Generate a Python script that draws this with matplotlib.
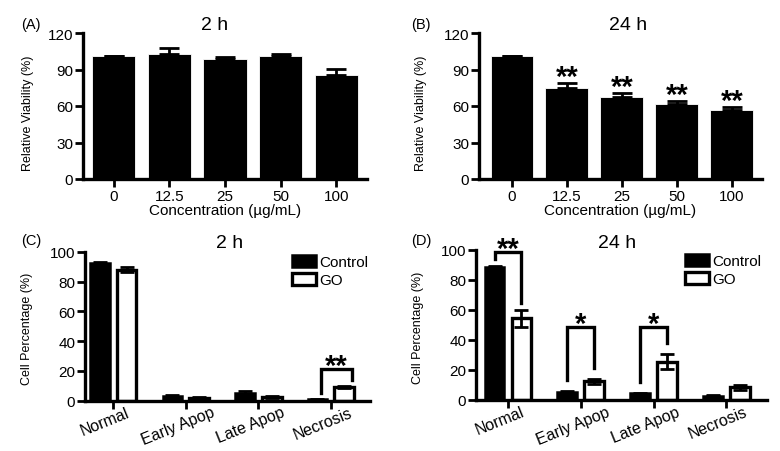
import matplotlib
matplotlib.use("Agg")
import matplotlib.pyplot as plt
import matplotlib.transforms as mtransforms
import numpy as np

plt.rcParams['font.family'] = ['Liberation Sans', 'DejaVu Sans']

# ---- data ----
conc_labels = ["0", "12.5", "25", "50", "100"]
via_2h = [101, 102.5, 99, 101, 85.5]
via_2h_err = [0, 5, 1.5, 1.5, 5]
via_24h = [101, 75, 67.5, 61.5, 56.5]
via_24h_err = [0, 4, 3.5, 3, 2.5]
via_24h_sig = ["", "**", "**", "**", "**"]

cat_labels = ["Normal", "Early Apop", "Late Apop", "Necrosis"]
ctrl_2h = [92.5, 3.0, 5.5, 1.0]
ctrl_2h_err = [0.7, 0.5, 0.8, 0.3]
go_2h = [88, 2.0, 2.5, 9.0]
go_2h_err = [1.5, 0.4, 0.5, 0.8]
sig_2h = ["", "", "", "**"]

ctrl_24h = [89, 5.5, 4.5, 3.0]
ctrl_24h_err = [0.5, 0.5, 0.5, 0.5]
go_24h = [54.5, 12.5, 25.5, 8.5]
go_24h_err = [5.5, 1.5, 5, 1.5]
sig_24h = ["**", "*", "*", ""]

W, H = 780, 452
fig = plt.figure(figsize=(W / 100, H / 100), dpi=100)


def add_ax(left, right, top, bottom):
    return fig.add_axes([left / W, 1 - bottom / H, (right - left) / W, (bottom - top) / H])


def px_offset(dx, dy):
    return mtransforms.ScaledTranslation(dx / 100, dy / 100, fig.dpi_scale_trans)


def style(ax):
    for s in ['top', 'right']:
        ax.spines[s].set_visible(False)
    for s in ['left', 'bottom']:
        ax.spines[s].set_linewidth(2.4)
    ax.tick_params(axis='both', width=2.0, length=5.5, labelsize=11, pad=1.5)


def star(ax, x, y, s, dy_px):
    ax.text(x, y, s, ha='center', va='center', fontsize=21, fontweight='bold',
            fontfamily='Liberation Sans', clip_on=False,
            transform=ax.transData + px_offset(0, dy_px))


def viability(ax, vals, errs, xlim, ylab_x, sig=None):
    x = np.arange(len(vals))
    ax.bar(x, vals, width=0.78, color='black', edgecolor='white', linewidth=0.6, zorder=2)
    ax.errorbar(x, vals, yerr=[np.zeros(len(errs)), errs], fmt='none', ecolor='black',
                elinewidth=2, capsize=7, capthick=2, zorder=3)
    ax.set_xlim(*xlim)
    ax.set_ylim(0, 120)
    ax.set_yticks([0, 30, 60, 90, 120])
    ax.set_xticks(x)
    ax.set_xticklabels(conc_labels)
    style(ax)
    ax.set_xlabel("Concentration (µg/mL)", fontsize=11, labelpad=0)
    ax.set_ylabel("Relative Viability (%)", fontsize=9)
    ax.yaxis.set_label_coords(ylab_x, 0.46)
    if sig:
        for xi, v, e, s in zip(x, vals, errs, sig):
            if s:
                star(ax, xi, v + e, s, 6)


def apop(ax, c, ce, g, ge, xlim, ylab_x, sig, brackets):
    x = np.arange(len(c))
    off = 0.185
    bw = 0.27
    ax.bar(x - off, c, width=bw, color='black', edgecolor='black', linewidth=1.8,
           label='Control', zorder=2)
    ax.bar(x + off, g, width=bw, color='white', edgecolor='black', linewidth=2.4,
           label='GO', zorder=2)
    ax.errorbar(x - off, c, yerr=ce, fmt='none', ecolor='black', elinewidth=2,
                capsize=5, capthick=2, zorder=3)
    ax.errorbar(x + off, g, yerr=ge, fmt='none', ecolor='black', elinewidth=2,
                capsize=5, capthick=2, zorder=3)
    ax.set_xlim(*xlim)
    ax.set_ylim(0, 100)
    ax.set_yticks([0, 20, 40, 60, 80, 100])
    ax.set_xticks(x)
    style(ax)
    labels = ax.set_xticklabels(cat_labels, rotation=22, ha='center', fontsize=11.5)
    for lab in labels:
        lab.set_transform(lab.get_transform() + px_offset(-8, 6))
    ax.set_ylabel("Cell Percentage (%)", fontsize=9)
    ax.yaxis.set_label_coords(ylab_x, 0.49)
    for xi, s, br in zip(x, sig, brackets):
        if not s or br is None:
            continue
        yl, yt, yr, dxl, dxr = br
        xl = xi - off + dxl
        xr = xi + off + dxr
        ax.plot([xl, xl, xr, xr], [yl, yt, yt, yr], color='black', lw=2.4,
                solid_joinstyle='miter', clip_on=False, zorder=4)
        star(ax, (xl + xr) / 2, yt, s, 3)
    leg = ax.legend(loc='upper left', frameon=False, fontsize=11, handlelength=1.6,
                    handleheight=0.8, handletextpad=0.2, labelspacing=0.25,
                    borderpad=0, borderaxespad=0,
                    bbox_to_anchor=(0, 0), bbox_transform=ax.transAxes)
    return leg


# Panel A
axA = add_ax(83, 367, 34, 180)
viability(axA, via_2h, via_2h_err, (-0.55, 4.55), (34 - 83) / 284)
# Panel B
axB = add_ax(479, 762, 34, 180)
viability(axB, via_24h, via_24h_err, (-0.6, 4.55), (427 - 479) / 283, via_24h_sig)

# Panel C
axC = add_ax(85, 370, 252.7, 401.7)
legC = apop(axC, ctrl_2h, ctrl_2h_err, go_2h, go_2h_err, (-0.39, 3.54), (33 - 85) / 285,
            sig_2h, [None, None, None, (5, 21, 14, 0.05, 0.1)])
legC.set_bbox_to_anchor((292 / W, 1 - 256 / H), transform=fig.transFigure)

# Panel D
axD = add_ax(476, 767, 251, 401)
legD = apop(axD, ctrl_24h, ctrl_24h_err, go_24h, go_24h_err, (-0.44, 3.56), (424 - 476) / 291,
            sig_24h,
            [(94, 99, 65, 0, 0), (13.3, 48.4, 21.5, 0, 0), (12, 48.4, 37.8, 0, 0), None])
legD.set_bbox_to_anchor((685 / W, 1 - 255 / H), transform=fig.transFigure)

# panel letters and titles
for txt, x, y in [("(A)", 21, 25), ("(B)", 411, 25), ("(C)", 21, 241), ("(D)", 411, 241)]:
    fig.text(x / W, 1 - y / H, txt, ha='left', va='center', fontsize=10.5)
for txt, x, y in [("2 h", 215, 25), ("24 h", 628, 25), ("2 h", 230, 244), ("24 h", 617, 244)]:
    fig.text(x / W, 1 - y / H, txt, ha='center', va='center', fontsize=14)

fig.savefig("out.png", dpi=100)
